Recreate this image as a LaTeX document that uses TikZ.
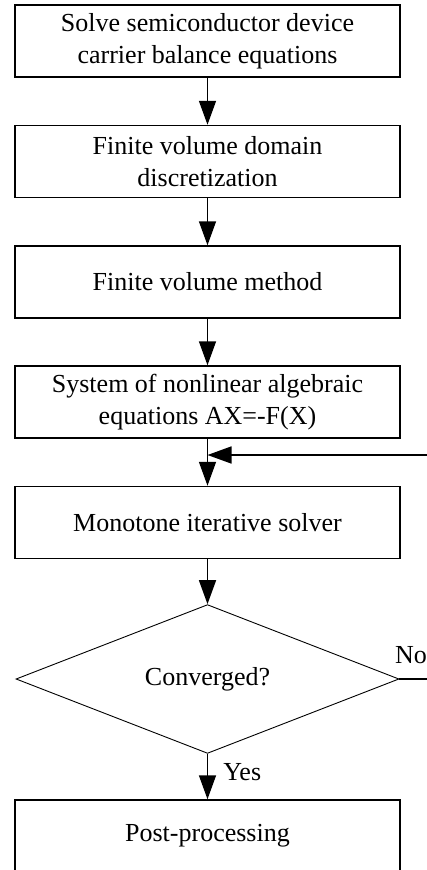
\documentclass[tikz,border=0pt]{standalone}
\usepackage{fontspec}
\setmainfont{Liberation Serif}
\usetikzlibrary{shapes.geometric,arrows.meta}
\begin{document}
\begin{tikzpicture}[x=1pt,y=-1pt,
  font=\fontsize{26}{32}\selectfont,
  procbox/.style={draw,line width=1.5pt,rectangle,minimum width=385pt,minimum height=72pt,inner sep=0pt,align=center},
  decbox/.style={draw,line width=0.9pt,diamond,minimum width=383pt,minimum height=144pt,inner sep=0pt},
  flow/.style={line width=1.6pt,-{Triangle[length=24pt,width=17pt]}},
  lbl/.style={inner sep=0pt}]
\useasboundingbox (0,0) rectangle (427,870);
\clip (0,0) rectangle (427,870);
\node[procbox] (b1) at (207.5,41) {Solve semiconductor device\\carrier balance equations};
\node[procbox] (b2) at (207.5,161.5) {Finite volume domain\\discretization};
\node[procbox] (b3) at (207.5,282) {Finite volume method};
\node[procbox] (b4) at (207.5,402) {System of nonlinear algebraic\\equations AX=-F(X)};
\node[procbox] (b5) at (207.5,522.5) {Monotone iterative solver};
\node[decbox] (d) at (207.5,679) {Converged?};
\node[procbox] (b6) at (207.5,836) {Post-processing};
\coordinate (fb) at (207.5,455);
\draw[flow] (b1) -- (b2);
\draw[flow] (b2) -- (b3);
\draw[flow] (b3) -- (b4);
\draw[flow] (b4) -- (b5);
\draw[flow] (b5) -- (d);
\draw[flow] (d) -- (b6) node[lbl,pos=0.4,right=15pt] {Yes};
\draw[flow] (d.east) -- ++(50,0) |- (fb);
\node[lbl,anchor=south west] (no) at (395,664) {No};
\end{tikzpicture}
\end{document}
